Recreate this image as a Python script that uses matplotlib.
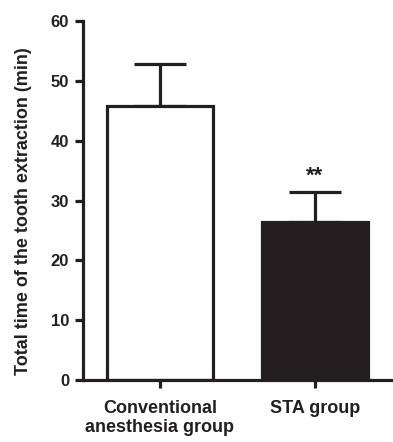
import matplotlib
matplotlib.use("Agg")
from matplotlib import pyplot as plt

groups = ["Conventional\nanesthesia group", "STA group"]
means = [45.8, 26.5]
errs = [7.0, 5.0]
colors = ["white", "#231f20"]
sig = ["", "**"]

plt.rcParams['font.family'] = ['Liberation Sans', 'DejaVu Sans']
plt.rcParams['font.weight'] = 'bold'

fig = plt.figure(figsize=(3.93, 4.42), dpi=100)
ax = fig.add_axes([0.211, 0.140, 0.789, 0.812])

lw = 2.3
x = list(range(len(groups)))
ax.errorbar(x, means, yerr=[[0] * len(errs), errs], fmt='none', ecolor='#231f20',
            elinewidth=lw, capsize=19, capthick=lw, zorder=1)
ax.bar(x, means, width=0.68, color=colors, edgecolor='#231f20', linewidth=lw, zorder=2)

for xi, m, e, s in zip(x, means, errs, sig):
    if s:
        ax.text(xi, m + e + 0.8, s, ha='center', va='bottom', fontsize=16, fontweight='bold', color='#231f20')

ax.set_xlim(-0.497, 1.503)
ax.set_ylim(0, 60)
ax.set_yticks([0, 10, 20, 30, 40, 50, 60])
ax.set_xticks(x)
ax.set_xticklabels(groups, fontsize=13, fontweight='bold', color='#231f20', linespacing=1.15)
ax.tick_params(axis='y', labelsize=12, width=lw, length=6, color='#231f20', labelcolor='#231f20', pad=4)
ax.tick_params(axis='x', width=lw, length=6, color='#231f20', pad=8)
for lab in ax.get_yticklabels():
    lab.set_fontweight('bold')
ax.set_ylabel("Total time of the tooth extraction (min)", fontsize=13, fontweight='bold', color='#231f20')
ax.yaxis.set_label_coords(-0.165, 0.47)

for sp in ['top', 'right']:
    ax.spines[sp].set_visible(False)
for sp in ['left', 'bottom']:
    ax.spines[sp].set_linewidth(lw)
    ax.spines[sp].set_color('#231f20')

plt.savefig('out.png', dpi=100)
